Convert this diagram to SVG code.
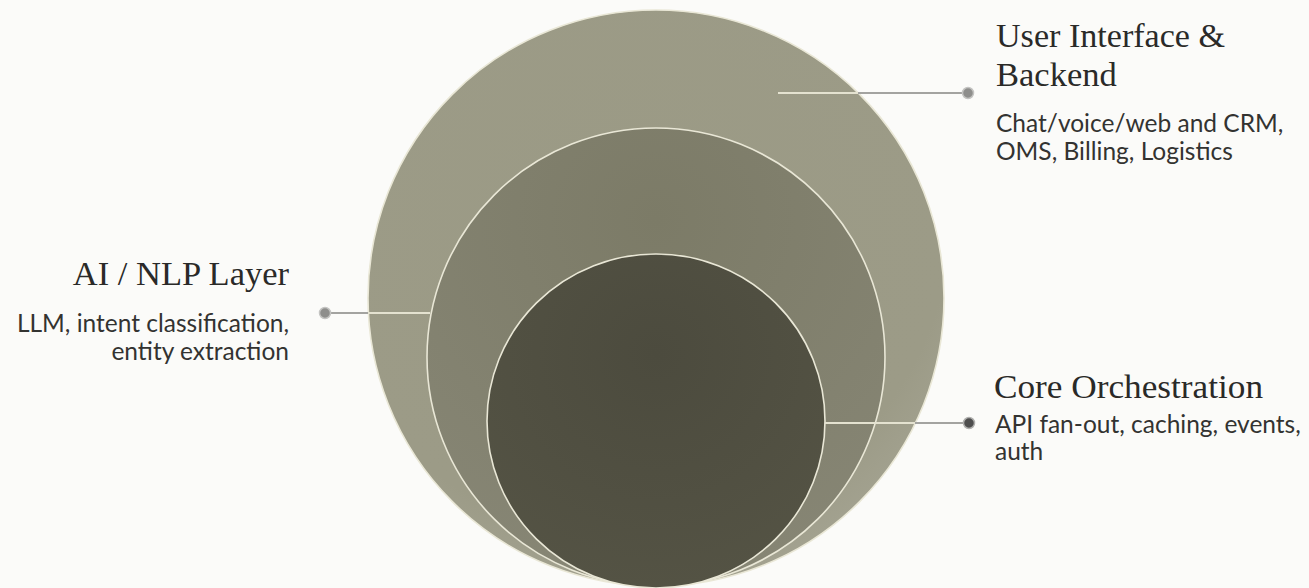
<svg xmlns="http://www.w3.org/2000/svg" width="1309" height="588" viewBox="0 0 1309 588">
  <defs>
    <radialGradient id="gOuter" cx="0.45" cy="0.35" r="0.75">
      <stop offset="0" stop-color="#9b9a85"/>
      <stop offset="0.75" stop-color="#9c9b87"/>
      <stop offset="1" stop-color="#a9a898"/>
    </radialGradient>
    <radialGradient id="gMiddle" cx="0.5" cy="0.2" r="0.85">
      <stop offset="0" stop-color="#7c7b67"/>
      <stop offset="1" stop-color="#878675"/>
    </radialGradient>
    <radialGradient id="gInner" cx="0.5" cy="0.3" r="0.8">
      <stop offset="0" stop-color="#4c4b3e"/>
      <stop offset="1" stop-color="#555445"/>
    </radialGradient>
    <style>
      .ring { stroke: #e9e7d6; stroke-width: 1.6; }
      .title { font-family: "Liberation Serif", "DejaVu Serif", serif; font-size: 34.5px; fill: #2a2a28; }
      .body { font-family: Lato, "Liberation Sans", sans-serif; font-size: 24.5px; fill: #333331; }
      .lineIn { stroke: #e4e2d0; stroke-width: 2; fill: none; }
      .lineOut { stroke: #a3a3a0; stroke-width: 2; fill: none; }
      .dot { fill: #8e8e8c; stroke: #c4c4c2; stroke-width: 1.5; }
      .dotDark { fill: #4e4e4e; stroke: #b0b0ae; stroke-width: 1.5; }
    </style>
  </defs>
  <rect width="1309" height="588" fill="#fbfbf9"/>

  <g id="layer-ui-backend">
    <circle cx="656" cy="298" r="288" fill="url(#gOuter)" class="ring"/>
  </g>
  <g id="layer-ai-nlp">
    <circle cx="656" cy="357" r="229" fill="url(#gMiddle)" class="ring"/>
  </g>
  <g id="layer-core">
    <ellipse cx="656" cy="421" rx="169" ry="167" fill="url(#gInner)" class="ring"/>
  </g>

  <g id="connectors">
    <line class="lineIn" x1="778" y1="93" x2="858" y2="93"/>
    <line class="lineOut" x1="858" y1="93" x2="964" y2="93"/>
    <circle class="dot" cx="968" cy="93" r="5.5"/>

    <line class="lineIn" x1="368" y1="313" x2="430" y2="313"/>
    <line class="lineOut" x1="329" y1="313" x2="368" y2="313"/>
    <circle class="dot" cx="325" cy="313" r="5.5"/>

    <line class="lineIn" x1="825" y1="423" x2="915" y2="423"/>
    <line class="lineOut" x1="915" y1="423" x2="964" y2="423"/>
    <circle class="dotDark" cx="969" cy="423" r="5.5"/>
  </g>

  <g id="label-ui-backend">
    <text class="title" x="996" y="47" textLength="229" lengthAdjust="spacingAndGlyphs">User Interface &amp;</text>
    <text class="title" x="996" y="86">Backend</text>
    <text class="body" x="996" y="132">Chat/voice/web and CRM,</text>
    <text class="body" x="996" y="160">OMS, Billing, Logistics</text>
  </g>
  <g id="label-ai-nlp">
    <text class="title" x="289" y="285" text-anchor="end">AI / NLP Layer</text>
    <text class="body" x="289" y="332" text-anchor="end">LLM, intent classification,</text>
    <text class="body" x="289" y="360" text-anchor="end">entity extraction</text>
  </g>
  <g id="label-core">
    <text class="title" x="994" y="398" textLength="269" lengthAdjust="spacingAndGlyphs">Core Orchestration</text>
    <text class="body" x="995" y="433">API fan-out, caching, events,</text>
    <text class="body" x="995" y="460">auth</text>
  </g>
</svg>
